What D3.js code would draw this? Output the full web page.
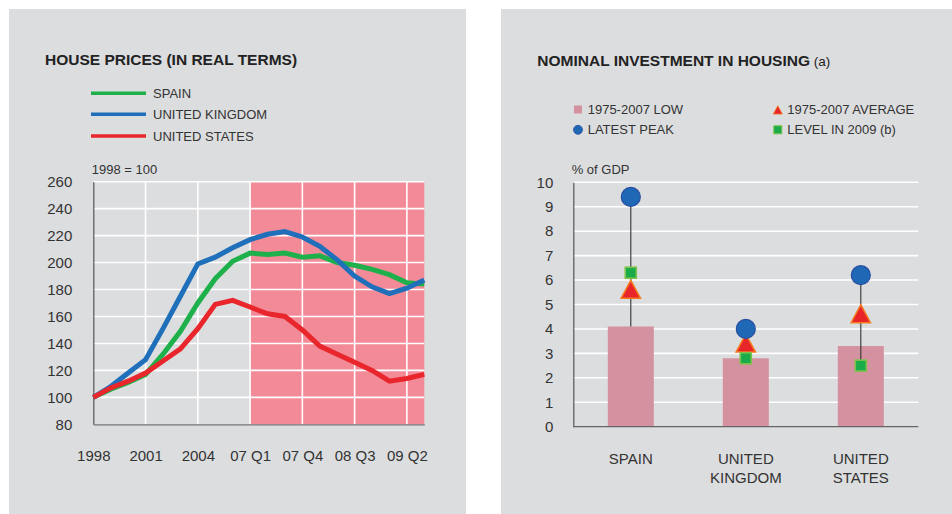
<!DOCTYPE html>
<html>
<head>
<meta charset="utf-8">
<script src="https://cdn.jsdelivr.net/npm/d3@7"></script>
<style>
  html, body { margin: 0; padding: 0; background: #fff; }
  svg { display: block; }
  text { font-family: "Liberation Sans", Arial, Helvetica, sans-serif; fill: #333; }
</style>
</head>
<body>
<svg id="chart" width="952" height="514"></svg>
<script>
// ---------- LEFT CHART DATA ----------
const periods = ["1998","1999","2000","2001","2002","2003","2004","2005","2006",
  "07 Q1","07 Q2","07 Q3","07 Q4","08 Q1","08 Q2","08 Q3","08 Q4","09 Q1","09 Q2","09 Q3"];
const xTickLabels = ["1998","2001","2004","07 Q1","07 Q4","08 Q3","09 Q2"];
const yTicksLeft = [80,100,120,140,160,180,200,220,240,260];
const spain = [100,106,111,117,132,149,170,188,201,207,206,207,204,205,200,198,195,191,185,184];
const uk    = [100,108,118,128,151,175,199,204,211,217,221,223,219,212,202,190,182,177,181,187];
const us    = [100,107,112,118,127,136,151,169,172,167,162,160,150,138,132,126,120,112,114,117];
const seriesNames = ["SPAIN","UNITED KINGDOM","UNITED STATES"];
const shadeStart = "07 Q1";

// ---------- RIGHT CHART DATA ----------
const countries = ["SPAIN","UNITED KINGDOM","UNITED STATES"];
const countryLines = [["SPAIN"],["UNITED","KINGDOM"],["UNITED","STATES"]];
const low = [4.1, 2.8, 3.3];
const average = [5.5, 3.3, 4.5];
const peak = [9.4, 4.0, 6.2];
const level2009 = [6.3, 2.8, 2.5];
const yTicksRight = [0,1,2,3,4,5,6,7,8,9,10];
const legendRight = ["1975-2007 LOW","LATEST PEAK","1975-2007 AVERAGE","LEVEL IN 2009 (b)"];

const svg = d3.select("#chart");
const PANEL = "#dcdddf";
const GRID = "#ffffff";
const AXIS = "#555";

// panels
svg.append("rect").attr("x",9).attr("y",9).attr("width",457).attr("height",505).attr("fill",PANEL);
svg.append("rect").attr("x",501).attr("y",9).attr("width",451).attr("height",505).attr("fill",PANEL);

// ================= LEFT =================
const colors = ["#1db04b","#1f6fba","#e8262b"];
const L = svg.append("g");
L.append("text").attr("x",45).attr("y",65).attr("font-size",15.5).attr("font-weight","bold")
  .style("fill","#222").text("HOUSE PRICES (IN REAL TERMS)");

// legend
seriesNames.forEach((n,i)=>{
  const yy = [93.3,114.3,136][i];
  L.append("line").attr("x1",91).attr("x2",146).attr("y1",yy).attr("y2",yy)
    .attr("stroke",colors[i]).attr("stroke-width",3.5);
  L.append("text").attr("x",153).attr("y",yy).attr("dy","0.36em").attr("font-size",13).text(n);
});

const x = d3.scaleLinear().domain([0, periods.length-1]).range([93.3, 424.3]);
const y = d3.scaleLinear().domain([80,260]).range([424.3, 181.7]);

// shaded region
const si = periods.indexOf(shadeStart);
L.append("rect").attr("x",x(si)).attr("y",y(260)).attr("width",x(periods.length-1)-x(si))
  .attr("height",y(80)-y(260)).attr("fill","#f38a98");

// grid
L.append("g").selectAll("line").data(yTicksLeft.filter(d=>d>80)).join("line")
  .attr("x1",x(0)).attr("x2",x(periods.length-1)).attr("y1",d=>y(d)).attr("y2",d=>y(d))
  .attr("stroke",GRID).attr("stroke-width",1.6);
const tickIdx = xTickLabels.map(t=>periods.indexOf(t));
L.append("g").selectAll("line").data(tickIdx.filter(i=>i>0)).join("line")
  .attr("x1",d=>x(d)).attr("x2",d=>x(d)).attr("y1",y(260)).attr("y2",y(80))
  .attr("stroke",GRID).attr("stroke-width",1.6);

// axes
const yAxL = L.append("g").attr("transform",`translate(${x(0)},0)`)
  .call(d3.axisLeft(y).tickValues(yTicksLeft).tickSize(0).tickPadding(21));
yAxL.select(".domain").attr("stroke",AXIS).attr("stroke-width",1.2);
yAxL.selectAll("text").attr("font-size",15).attr("font-family",null).style("fill","#333");

const xAxL = L.append("g").attr("transform",`translate(0,${y(80)})`)
  .call(d3.axisBottom(x).tickValues(tickIdx).tickFormat(i=>periods[i]).tickSize(0).tickPadding(26));
xAxL.select(".domain").attr("stroke","#777").attr("stroke-width",1.2);
xAxL.selectAll("text").attr("font-size",15).attr("font-family",null).style("fill","#333");

L.append("text").attr("x",91.7).attr("y",173.5).attr("font-size",13).text("1998 = 100");

// lines
const lineGen = d3.line().x((d,i)=>x(i)).y(d=>y(d));
[spain, uk, us].forEach((s,k)=>{
  L.append("path").datum(s).attr("d",lineGen).attr("fill","none")
    .attr("stroke",colors[k]).attr("stroke-width",5).attr("stroke-linejoin","miter");
});

// ================= RIGHT =================
const R = svg.append("g");
const tR = R.append("text").attr("x",537.3).attr("y",66).attr("font-size",15.5).style("fill","#222");
tR.append("tspan").attr("font-weight","bold").text("NOMINAL INVESTMENT IN HOUSING");
tR.append("tspan").attr("font-size",13.5).text(" (a)");

const BAR = "#d4919f";
const CIRC = "#1e68b5", CIRC_S = "#2b4ea3";
const SQ = "#1aab4b", SQ_S = "#7cc24a";
const TRI = "#e8262a", TRI_S = "#f47b20";

function triPath(h){ // centroid at origin
  const w = h*1.08;
  return `M0,${-2*h/3}L${w/2},${h/3}L${-w/2},${h/3}Z`;
}

// legend
R.append("rect").attr("x",574).attr("y",105.5).attr("width",8).attr("height",8).attr("fill",BAR);
R.append("text").attr("x",587.7).attr("y",109.5).attr("dy","0.36em").attr("font-size",13).text(legendRight[0]);
R.append("circle").attr("cx",578).attr("cy",129.8).attr("r",4.5).attr("fill",CIRC).attr("stroke",CIRC_S).attr("stroke-width",0.8);
R.append("text").attr("x",587.7).attr("y",129.8).attr("dy","0.36em").attr("font-size",13).text(legendRight[1]);
R.append("path").attr("transform","translate(777.8,111.3)").attr("d",triPath(8.3)).attr("fill",TRI).attr("stroke",TRI_S).attr("stroke-width",0.8);
R.append("text").attr("x",787.3).attr("y",109.5).attr("dy","0.36em").attr("font-size",13).text(legendRight[2]);
R.append("rect").attr("x",773.8).attr("y",125.8).attr("width",8).attr("height",8).attr("fill",SQ).attr("stroke",SQ_S).attr("stroke-width",1);
R.append("text").attr("x",787.3).attr("y",129.8).attr("dy","0.36em").attr("font-size",13).text(legendRight[3]);

const xb = d3.scaleBand().domain(countries).range([573.3, 918.3]).paddingInner(0.6).paddingOuter(0.3);
const yr = d3.scaleLinear().domain([0,10]).range([426.7, 182.3]);

// grid
R.append("g").selectAll("line").data(yTicksRight.filter(d=>d>0)).join("line")
  .attr("x1",573.3).attr("x2",918.3).attr("y1",d=>yr(d)).attr("y2",d=>yr(d))
  .attr("stroke",GRID).attr("stroke-width",1.6);

const yAxR = R.append("g").attr("transform","translate(573.3,0)")
  .call(d3.axisLeft(yr).tickValues(yTicksRight).tickSize(0).tickPadding(20));
yAxR.select(".domain").attr("stroke",AXIS).attr("stroke-width",1.2);
yAxR.selectAll("text").attr("font-size",15).attr("font-family",null).style("fill","#333");

// bars
R.append("g").selectAll("rect").data(countries).join("rect")
  .attr("x",d=>xb(d)).attr("width",xb.bandwidth())
  .attr("y",(d,i)=>yr(low[i])).attr("height",(d,i)=>yr(0)-yr(low[i])).attr("fill",BAR);

// baseline axis
R.append("line").attr("x1",573.3).attr("x2",918.3).attr("y1",yr(0)).attr("y2",yr(0))
  .attr("stroke","#666").attr("stroke-width",1.2);

const cx = d => xb(d) + xb.bandwidth()/2;
// range lines
R.append("g").selectAll("line").data(countries).join("line")
  .attr("x1",cx).attr("x2",cx)
  .attr("y1",(d,i)=>yr(Math.max(low[i],average[i],peak[i],level2009[i])))
  .attr("y2",(d,i)=>yr(Math.min(low[i],average[i],peak[i],level2009[i])))
  .attr("stroke","#333").attr("stroke-width",1.1);

// triangles
R.append("g").selectAll("path").data(countries).join("path")
  .attr("transform",(d,i)=>`translate(${cx(d)},${yr(average[i])})`)
  .attr("d",triPath(18)).attr("fill",TRI).attr("stroke",TRI_S).attr("stroke-width",1.5).attr("stroke-linejoin","miter");
// squares
R.append("g").selectAll("rect").data(countries).join("rect")
  .attr("x",d=>cx(d)-5.5).attr("y",(d,i)=>yr(level2009[i])-5.5).attr("width",11).attr("height",11)
  .attr("fill",SQ).attr("stroke",SQ_S).attr("stroke-width",1.6);
// circles
R.append("g").selectAll("circle").data(countries).join("circle")
  .attr("cx",cx).attr("cy",(d,i)=>yr(peak[i])).attr("r",9.5)
  .attr("fill",CIRC).attr("stroke",CIRC_S).attr("stroke-width",1.2);

// x labels
countries.forEach((c,i)=>{
  const t = R.append("text").attr("x",cx(c)).attr("y",464).attr("text-anchor","middle").attr("font-size",15);
  countryLines[i].forEach((ln,j)=>{
    t.append("tspan").attr("x",cx(c)).attr("dy", j===0?0:19).text(ln);
  });
});

R.append("text").attr("x",571.7).attr("y",173.5).attr("font-size",13).text("% of GDP");
</script>
</body>
</html>
